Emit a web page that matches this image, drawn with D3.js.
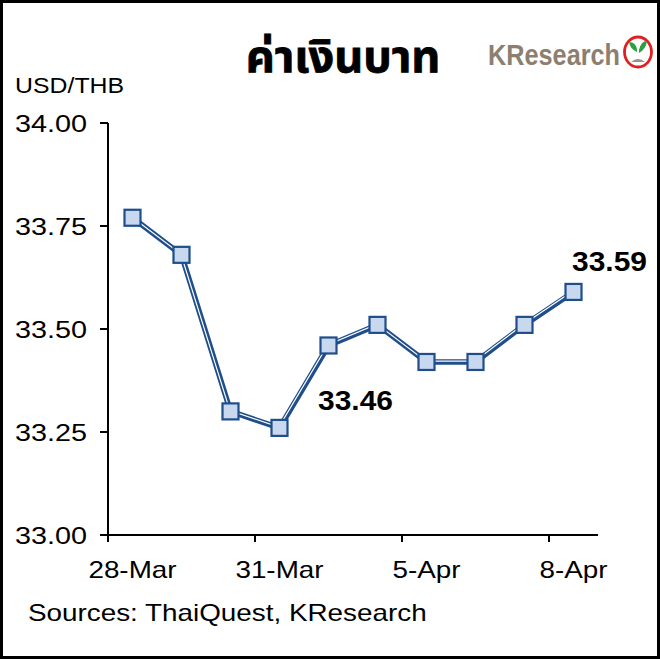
<!DOCTYPE html>
<html>
<head>
<meta charset="utf-8">
<script src="https://cdn.jsdelivr.net/npm/d3@7"></script>
<style>
  html, body { margin: 0; padding: 0; background: #fff; }
  svg { display: block; }
  text { font-family: "Liberation Sans", Arial, sans-serif; }
</style>
</head>
<body>
<svg id="chart" width="660" height="659"></svg>
<script>
// ---- data ----
const dates = ["28-Mar","29-Mar","30-Mar","31-Mar","1-Apr","4-Apr","5-Apr","6-Apr","7-Apr","8-Apr"];
const values = [33.77, 33.68, 33.30, 33.26, 33.46, 33.51, 33.42, 33.42, 33.51, 33.59];
const labelDates = ["28-Mar","31-Mar","5-Apr","8-Apr"];
const yTicks = [33.00, 33.25, 33.50, 33.75, 34.00];
const annotated = ["1-Apr","8-Apr"];
const titleText = "ค่าเงินบาท";
const unitText = "USD/THB";
const sourceText = "Sources: ThaiQuest, KResearch";

const svg = d3.select("#chart");
const W = 660, H = 659;
const dark = "#1f4e8a", fill = "#c8d9ef";

svg.append("rect").attr("x", 1.5).attr("y", 1.5).attr("width", W - 3).attr("height", H - 3)
  .attr("fill", "#fff").attr("stroke", "#000").attr("stroke-width", 3);

const x = d3.scaleBand().domain(dates).range([108, 598]).padding(0);
const y = d3.scaleLinear().domain([33, 34]).range([535, 123]);

function stext(parent, px, py, str, size, anchor, weight, sx) {
  return parent.append("text")
    .attr("transform", `translate(${px},${py}) scale(${sx},1)`)
    .attr("text-anchor", anchor || "start")
    .attr("font-size", size)
    .attr("font-weight", weight || "normal")
    .attr("fill", "#000")
    .text(str);
}

// title
svg.append("text").attr("x", 343).attr("y", 72).attr("text-anchor", "middle")
  .attr("font-size", 45).attr("font-weight", "bold")
  .attr("stroke", "#000").attr("stroke-width", 0.8)
  .style("font-family", "'Noto Sans Thai', 'Noto Sans Thai UI', Tahoma, Loma, Garuda, 'DejaVu Sans', sans-serif")
  .text(titleText);

// logo
svg.append("text").attr("x", 488).attr("y", 65)
  .attr("font-size", 30).attr("font-weight", "bold").attr("fill", "#8d7f70")
  .style("font-family", "'Liberation Sans Narrow', 'Liberation Sans', Arial, sans-serif")
  .attr("textLength", 132).attr("lengthAdjust", "spacingAndGlyphs")
  .text("KResearch");
const logo = svg.append("g").attr("transform", "translate(638,52)");
logo.append("ellipse").attr("rx", 13.5).attr("ry", 15).attr("fill", "#fff")
  .attr("stroke", "#e02020").attr("stroke-width", 2.8);
logo.append("path").attr("d", "M-7,10 Q0,4 7,10 Z").attr("fill", "#9a9088");
logo.append("path").attr("d", "M-1,8 L-1,-2 Q-2,-10 -9,-10 Q-8,-3 -1,0 Z").attr("fill", "#2aa040");
logo.append("path").attr("d", "M1,8 L1,-2 Q3,-11 9,-11 Q8,-3 1,1 Z").attr("fill", "#2aa040");

// y axis unit label
stext(svg, 15, 93, unitText, 22, "start", "normal", 1.13);

// axes
const axisG = svg.append("g");
axisG.append("line").attr("x1", 108).attr("x2", 108).attr("y1", y(34)).attr("y2", y(33))
  .attr("stroke", "#000").attr("stroke-width", 2);
axisG.append("line").attr("x1", 108).attr("x2", x.range()[1]).attr("y1", y(33)).attr("y2", y(33))
  .attr("stroke", "#000").attr("stroke-width", 2);

yTicks.forEach(v => {
  axisG.append("line").attr("x1", 100).attr("x2", 108).attr("y1", y(v)).attr("y2", y(v))
    .attr("stroke", "#000").attr("stroke-width", 2);
  stext(axisG, 87, y(v) + 8.5, d3.format(".2f")(v), 24, "end", "normal", 1.2);
});

labelDates.forEach(d => {
  const bx = x(d);
  axisG.append("line").attr("x1", bx).attr("x2", bx).attr("y1", y(33)).attr("y2", y(33) + 7)
    .attr("stroke", "#000").attr("stroke-width", 2);
  stext(axisG, bx + x.bandwidth() / 2, 578, d, 24, "middle", "normal", 1.16);
});

// line (double-line style)
const pts = dates.map((d, i) => [x(d) + x.bandwidth() / 2, y(values[i])]);
const lineGen = d3.line();
svg.append("path").attr("d", lineGen(pts)).attr("fill", "none")
  .attr("stroke", dark).attr("stroke-width", 5.5).attr("stroke-linejoin", "miter");
svg.append("path").attr("d", lineGen(pts)).attr("fill", "none")
  .attr("transform", "translate(-0.6,-0.8)")
  .attr("stroke", "#fff").attr("stroke-width", 1.2).attr("stroke-linejoin", "miter");

// markers
svg.selectAll("rect.m").data(pts).join("rect").attr("class", "m")
  .attr("x", d => d[0] - 8).attr("y", d => d[1] - 8)
  .attr("width", 16).attr("height", 16)
  .attr("fill", fill).attr("stroke", dark).attr("stroke-width", 2.2);

// annotations
const ann = svg.append("g");
const i1 = dates.indexOf(annotated[0]);
stext(ann, x(annotated[0]) + x.bandwidth() / 2 + 27, y(values[i1]) + 65, values[i1].toFixed(2), 28, "middle", "bold", 1.07);
const i2 = dates.indexOf(annotated[1]);
stext(ann, x(annotated[1]) + x.bandwidth() / 2 + 36, y(values[i2]) - 21, values[i2].toFixed(2), 28, "middle", "bold", 1.07);

// source
stext(svg, 28, 621, sourceText, 24, "start", "normal", 1.16);
</script>
</body>
</html>
